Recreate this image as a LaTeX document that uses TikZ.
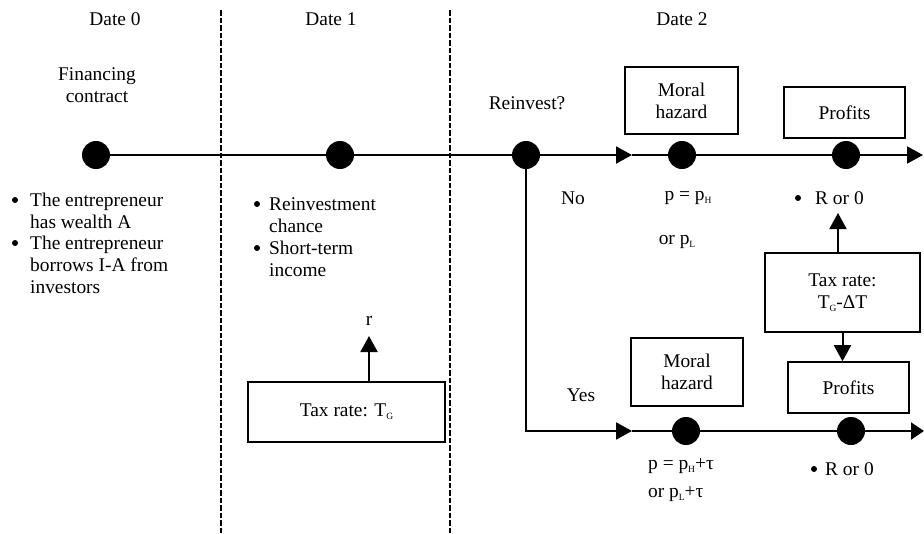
\documentclass[tikz,border=0pt]{standalone}
\usepackage{fontspec}
\setmainfont{Liberation Serif}
\usetikzlibrary{arrows.meta}
\newcommand\sbs[1]{\raisebox{-0.35ex}{\fontsize{9.5}{9.5}\selectfont #1}}
\begin{document}
\begin{tikzpicture}[x=1pt,y=-1pt,
  every node/.style={font=\fontsize{19.4}{22}\selectfont, inner sep=0pt},
  dot/.style={circle, fill=black, minimum size=28pt},
  box/.style={draw, line width=1.6pt, align=center},
  lbl/.style={align=center},
  lft/.style={align=left, anchor=west},
  tl/.style={line width=2pt},
  arr/.style={line width=2pt, -{Triangle[length=16pt,width=17pt]}},
  sep/.style={line width=2pt, dash pattern=on 5.5pt off 2pt},
  bul/.style={circle, fill=black, minimum size=6pt}
]
\useasboundingbox (0,0) rectangle (924,533);

% date headings
\node[lbl] (date0) at (115,19) {Date 0};
\node[lbl] (date1) at (331,19) {Date 1};
\node[lbl] (date2) at (682,19) {Date 2};

% separators
\coordinate (s1t) at (221,10);
\coordinate (s1b) at (221,533);
\coordinate (s2t) at (450,10);
\coordinate (s2b) at (450,533);
\draw[sep] (s1t) -- (s1b);
\draw[sep] (s2t) -- (s2b);

% timeline dots
\node[dot] (d0) at (96,155) {};
\node[dot] (d1) at (340,155) {};
\node[dot] (rv) at (526,155) {};
\node[dot] (m1) at (682,155) {};
\node[dot] (p1) at (846,155) {};
\node[dot] (m2) at (686,431) {};
\node[dot] (p2) at (851,431) {};
\coordinate (a1) at (632,155);
\coordinate (e1) at (923,155);
\coordinate (corner) at (526,431);
\coordinate (a2) at (632,431);
\coordinate (e2) at (924,431);

\draw[tl] (d0) -- (d1);
\draw[tl] (d1) -- (rv);
\draw[arr] (rv) -- (a1);
\draw[tl] (a1) -- (m1);
\draw[tl] (m1) -- (p1);
\draw[arr] (p1) -- (e1);
\draw[line width=2.6pt] (rv.center) -- (corner) -- ++(2,0);
\draw[arr] (corner) -- (a2);
\draw[tl] (a2) -- (m2);
\draw[tl] (m2) -- (p2);
\draw[line width=2pt, -{Triangle[length=13pt,width=17pt]}] (p2) -- (e2);

% Date 0 texts
\node[lbl] (fin) at (97,85) {Financing\\contract};
\node[bul] (b1) at (15,200) {};
\node[lft] (t1) at (30,211) {The entrepreneur\\has wealth A};
\node[bul] (b2) at (15,243) {};
\node[lft] (t2) at (30,265) {The entrepreneur\\borrows I-A from\\investors};

% Date 1 texts
\node[bul] (b3) at (257,204) {};
\node[lft] (t3) at (269,215.5) {Reinvestment\\chance};
\node[bul] (b4) at (257,248) {};
\node[lft] (t4) at (269,259) {Short-term\\income};
\node[box, minimum width=197pt, minimum height=60pt] (tax1) at (346.5,412) {Tax rate: T\sbs{G}};
\node[lbl] (rlab) at (369,321) {r};
\coordinate (rtip) at (369,336);
\draw[arr] ([xshift=22.5pt]tax1.north) -- (rtip);

% Date 2 texts
\node[lbl] (reinv) at (527,103) {Reinvest?};
\node[lbl] (no) at (573,198) {No};
\node[lbl] (yes) at (581,395) {Yes};
\node[box, minimum width=113pt, minimum height=67pt] (mh1) at (681.5,100.5) {Moral\\hazard};
\node[box, minimum width=121pt, minimum height=51pt] (pr1) at (844.5,112.5) {Profits};
\node[lbl] (pH) at (688,198) {p = p\sbs{H}};
\node[lbl] (pL) at (677,242) {or p\sbs{L}};
\node[bul] (b5) at (798,198) {};
\node[lft] (ro1) at (815,198) {R or 0};
\node[box, minimum width=155pt, minimum height=79pt] (tax2) at (842.5,292.5) {Tax rate:\\T\sbs{G}-ΔT};
\coordinate (rotip) at (838,213);
\draw[arr] ([xshift=-4.5pt]tax2.north) -- (rotip);
\node[box, minimum width=121pt, minimum height=51pt] (pr2) at (848.5,387.5) {Profits};
\draw[arr] (tax2.south) -- (tax2.south |- pr2.north);
\node[box, minimum width=112pt, minimum height=68pt] (mh2) at (687,372) {Moral\\hazard};
\node[lbl, anchor=west] (pHt) at (648,466) {p = p\sbs{H}+τ};
\node[lbl, anchor=west] (pLt) at (648,494) {or p\sbs{L}+τ};
\node[bul] (b6) at (814,469) {};
\node[lft] (ro2) at (825,469) {R or 0};
\end{tikzpicture}
\end{document}
